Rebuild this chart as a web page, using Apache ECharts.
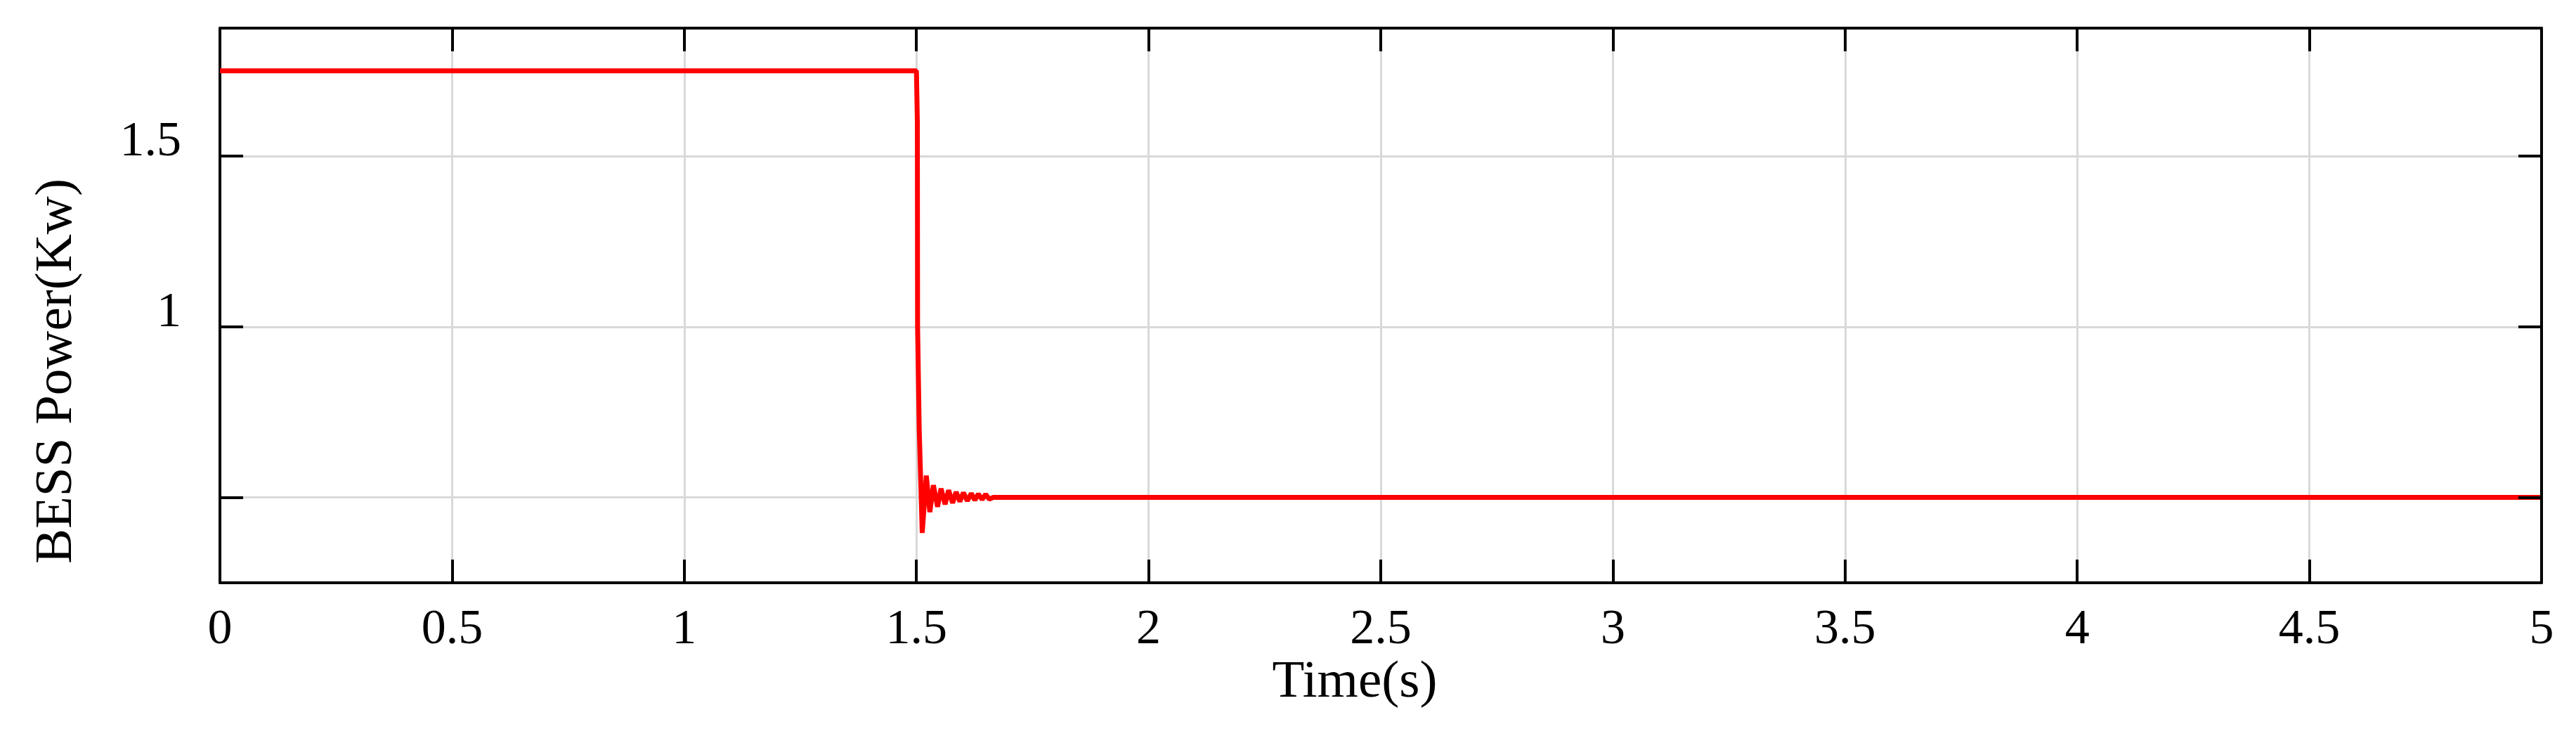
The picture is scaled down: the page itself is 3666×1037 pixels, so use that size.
<!DOCTYPE html>
<html>
<head>
<meta charset="utf-8">
<script src="https://cdn.jsdelivr.net/npm/echarts@6/dist/echarts.min.js"></script>
<style>
html,body{margin:0;padding:0;background:#ffffff;}
#chart{width:3666px;height:1037px;}
</style>
</head>
<body>
<div id="chart"></div>
<script>
// ---- data ----
const timeS = [0, 1.5, 1.502, 1.5025, 1.506, 1.5125, 1.5213, 1.5289, 1.5365, 1.5455, 1.5531, 1.5617, 1.5693, 1.5779, 1.5855, 1.5935, 1.6011, 1.6097, 1.6182, 1.6257, 1.6333, 1.6415, 1.6490, 1.6570, 1.665, 5];
const powerKw = [1.75, 1.75, 1.60, 1.00, 0.70, 0.396, 0.564, 0.457, 0.536, 0.473, 0.526, 0.480, 0.521, 0.484, 0.516, 0.488, 0.514, 0.490, 0.512, 0.492, 0.510, 0.494, 0.509, 0.495, 0.500, 0.500];
const xTickValues = [0, 0.5, 1, 1.5, 2, 2.5, 3, 3.5, 4, 4.5, 5];
const yTickValues = [0.5, 1, 1.5];
const yLabelValues = [1, 1.5];
const xName = 'Time(s)';
const yName = 'BESS Power(Kw)';

const FONT = '"Liberation Serif", "Times New Roman", serif';
const seriesData = timeS.map((t, i) => [t, powerKw[i]]);

const chart = echarts.init(document.getElementById('chart'), null, {renderer: 'svg'});
const lineStyle = {show: true, onZero: false, lineStyle: {color: '#000', width: 4}};
const noLine = {show: false, onZero: false};
const gridLine = {show: true, lineStyle: {color: '#d9d9d9', width: 3}};

function ticks(values) {
  return {show: true, inside: true, length: 33, customValues: values, lineStyle: {color: '#000', width: 4}};
}
// tick-only helper axes (top/right orientation draws ticks inward reliably)
function tickOnlyX(showLine, offset) {
  return {type: 'value', position: 'top', min: 0, max: 5, offset: offset,
    axisLine: showLine ? lineStyle : noLine, axisTick: ticks(xTickValues),
    splitLine: {show: false}, axisLabel: {show: false}, z: 20};
}
function tickOnlyY(showLine, offset) {
  return {type: 'value', position: 'right', min: 0.25, max: 1.875, offset: offset,
    axisLine: showLine ? lineStyle : noLine, axisTick: ticks(yTickValues),
    splitLine: {show: false}, axisLabel: {show: false}, z: 20};
}

chart.setOption({
  animation: false,
  backgroundColor: '#ffffff',
  grid: {left: 313, right: 49, top: 40, bottom: 208, containLabel: false},
  xAxis: [{
    type: 'value', position: 'bottom', min: 0, max: 5,
    axisLine: lineStyle, axisTick: {show: false, customValues: xTickValues},
    splitLine: gridLine,
    axisLabel: {show: true, customValues: xTickValues, color: '#000', fontFamily: FONT, fontSize: 70, margin: 27}
  }, tickOnlyX(true, 0), tickOnlyX(false, -756)],
  yAxis: [{
    type: 'value', position: 'left', min: 0.25, max: 1.875,
    axisLine: lineStyle, axisTick: {show: false, customValues: yTickValues},
    splitLine: gridLine,
    axisLabel: {show: true, customValues: yLabelValues, color: '#000', fontFamily: FONT, fontSize: 70,
      margin: 55, align: 'right', verticalAlign: 'bottom', lineHeight: 49}
  }, tickOnlyY(true, 0), tickOnlyY(false, -3271)],
  graphic: [{
    type: 'text', x: 1928, y: 965, z: 10,
    style: {text: xName, font: '75px ' + FONT, fill: '#000', textAlign: 'center', textVerticalAlign: 'middle'}
  }, {
    type: 'text', x: 75, y: 528, rotation: Math.PI / 2, z: 10,
    style: {text: yName, font: '75px ' + FONT, fill: '#000', textAlign: 'center', textVerticalAlign: 'middle'}
  }],
  series: [{
    type: 'line', xAxisIndex: 0, yAxisIndex: 0,
    data: seriesData, showSymbol: false, symbol: 'none', smooth: false,
    lineStyle: {color: '#ff0000', width: 7},
    z: 5
  }]
});
</script>
</body>
</html>
